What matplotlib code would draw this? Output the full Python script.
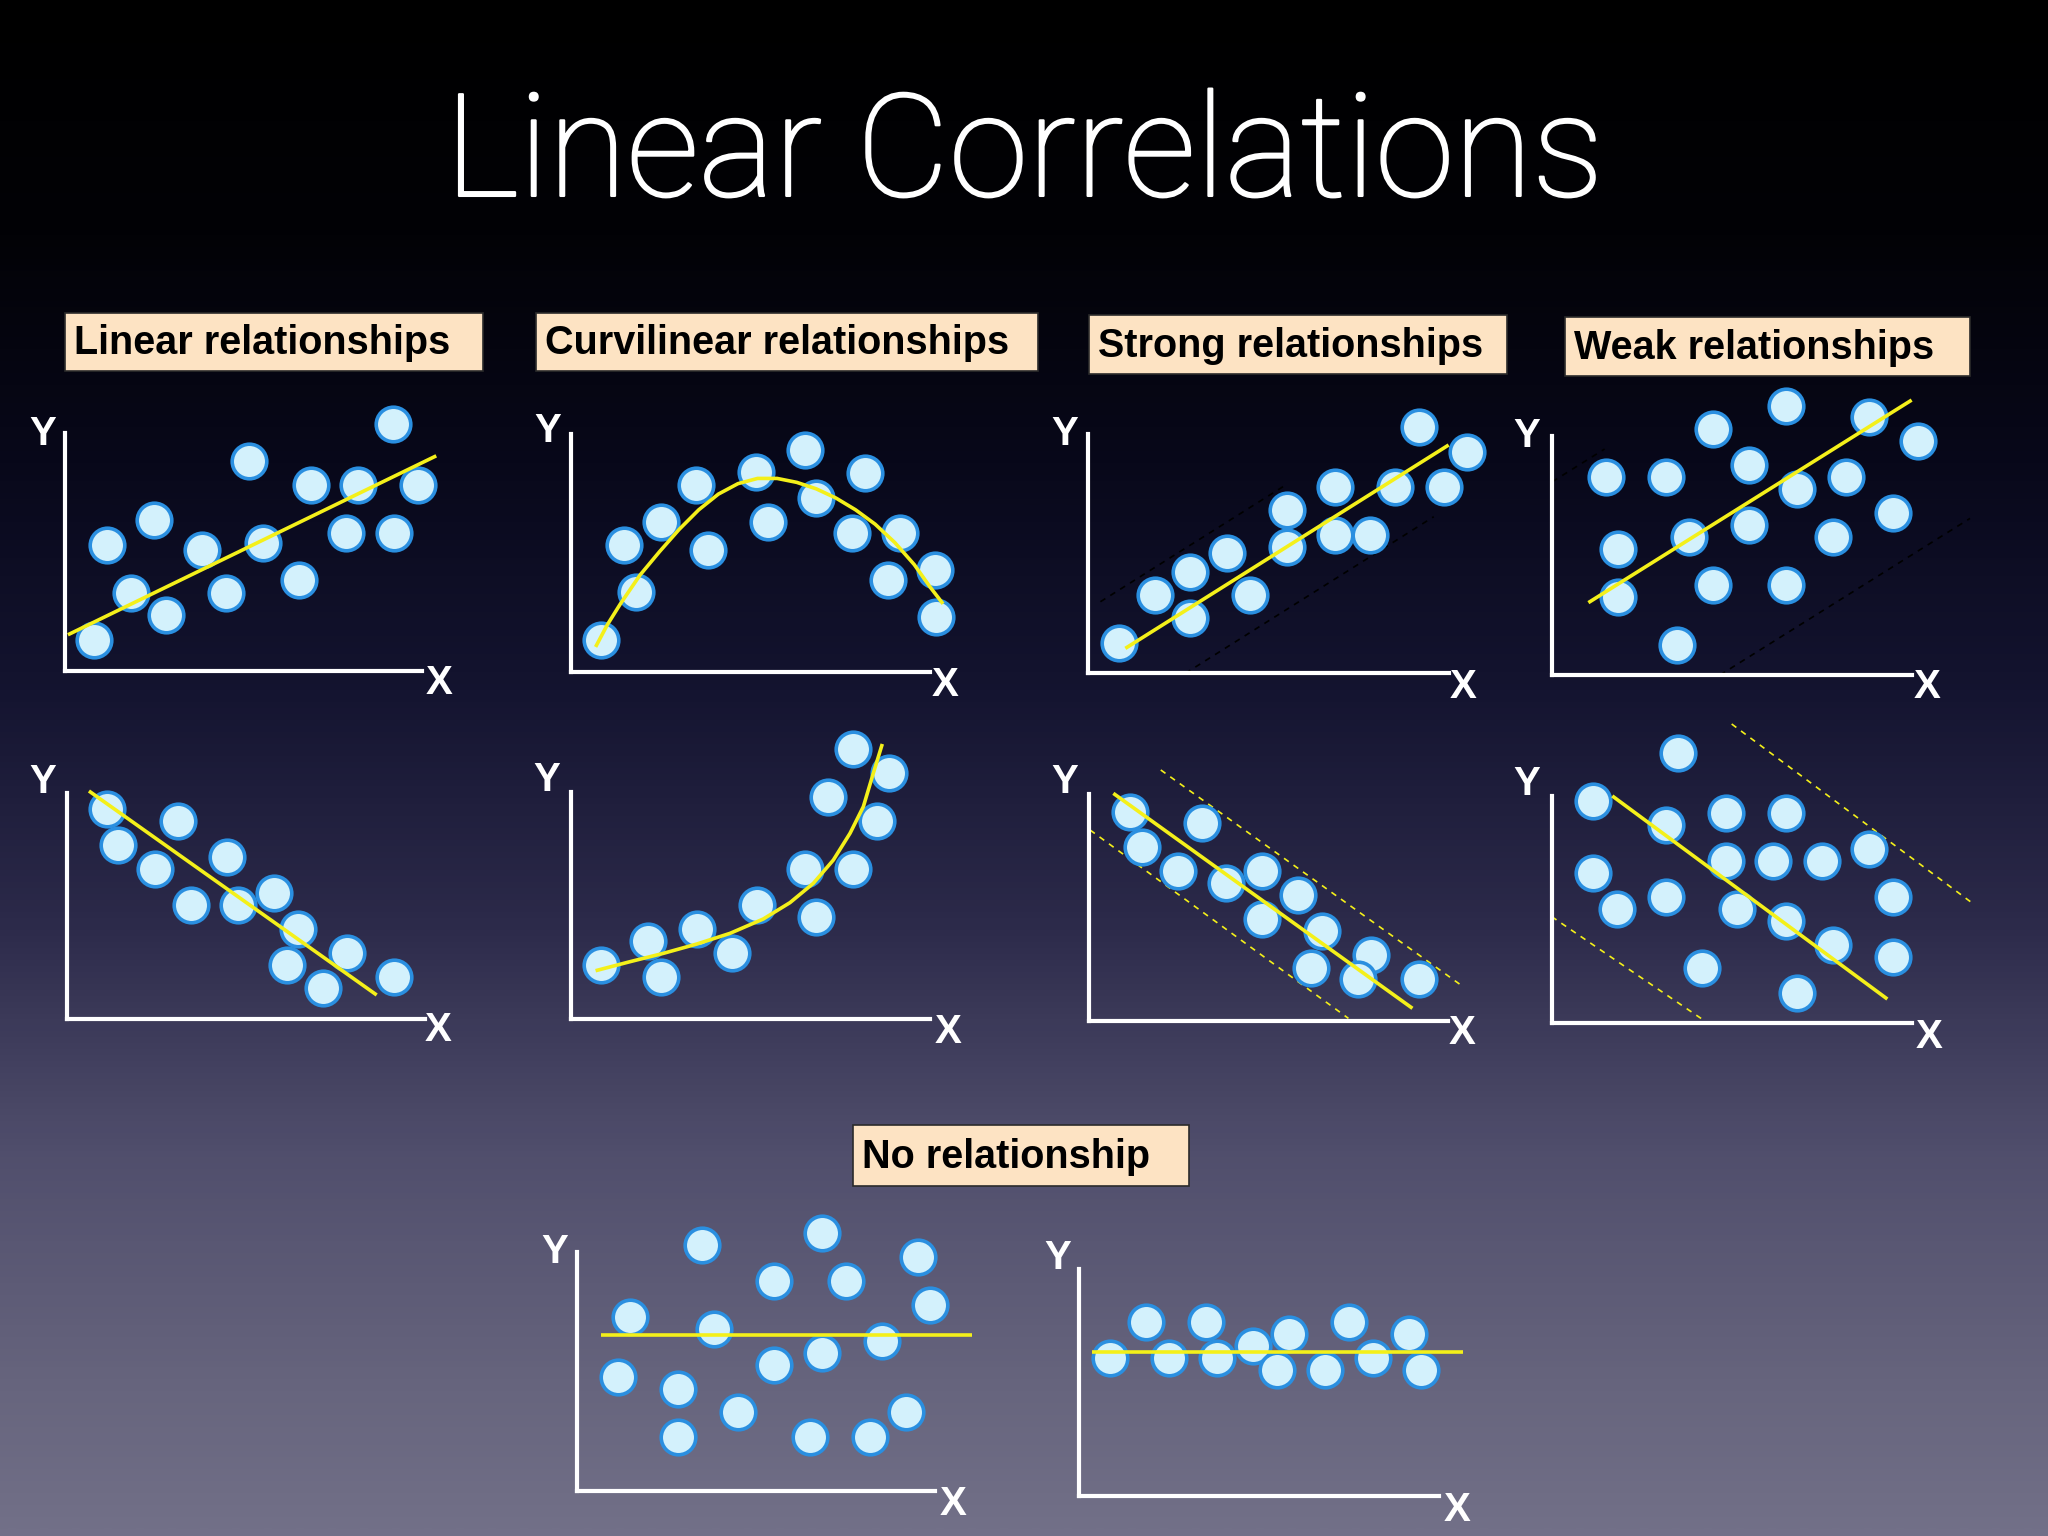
import numpy as np
import matplotlib
matplotlib.use("Agg")
import matplotlib.pyplot as plt
import matplotlib.patheffects as pe
from matplotlib.colors import LinearSegmentedColormap
from matplotlib.patches import Rectangle

# ---------------- data ----------------
# Linear relationships - positive
lin_pos_x = [22, 50, 77, 32, 68, 105, 123, 141, 151, 179, 188, 215, 224, 251, 252, 270]
lin_pos_y = [24, 60, 43, 97, 116, 93, 60, 161, 98, 70, 143, 106, 143, 189, 106, 143]
lin_pos_fit_x = [2, 284]
lin_pos_fit_y = [28, 165]

# Linear relationships - negative
lin_neg_x = [30.6, 85.5, 39.6, 67.6, 122.5, 94.9, 131.4, 158.7, 177.4, 214.4, 168.4, 196.0, 250.9]
lin_neg_y = [160.8, 151.6, 133.0, 114.8, 124.3, 87.3, 87.3, 96.7, 68.9, 50.8, 41.3, 23.5, 32.4]
lin_neg_fit_x = [17.1, 237.4]
lin_neg_fit_y = [174.6, 18.4]

# Curvilinear - arch
curv_arch_x = [23, 50, 41, 69, 96, 105, 142, 151, 179, 188, 215, 225, 243, 252, 279, 280]
curv_arch_y = [24, 61, 97, 115, 143, 93, 153, 115, 170, 133, 106, 152, 70, 106, 78, 42]
curv_arch_fit_x = [19, 28, 38, 53, 68, 83, 98, 113, 128, 143, 158, 173, 188, 203, 218, 233, 248, 263, 275, 285]
curv_arch_fit_y = [19, 36, 52, 74, 92, 109, 124, 136, 144, 148, 148, 145, 140, 133, 124, 113, 99, 82, 65, 52]

# Curvilinear - exponential
curv_exp_x = [23.2, 59.5, 68.9, 96.5, 123.8, 142.4, 179.4, 187.8, 215.9, 197.3, 234.3, 215.9, 243.7]
curv_exp_y = [41.3, 60.0, 31.9, 68.9, 50.3, 87.3, 114.8, 77.8, 114.8, 170.2, 151.9, 206.5, 188.1]
curv_exp_fit_x = [19.1, 45.4, 71.0, 96.5, 122.0, 147.5, 167.9, 185.8, 201.1, 213.9, 224.1, 231.7, 238.6]
curv_exp_fit_y = [37.0, 43.9, 50.3, 57.4, 65.6, 76.6, 89.1, 103.9, 121.7, 142.2, 162.6, 188.1, 210.6]

# Strong - positive
strong_pos_x = [23.2, 51.3, 78.1, 78.1, 106.2, 124.0, 152.1, 152.1, 189.1, 189.1, 215.9, 235.1, 252.9, 272.1, 289.9]
strong_pos_y = [22.4, 59.4, 77.3, 41.6, 91.4, 59.4, 124.5, 96.4, 142.4, 105.4, 105.4, 142.4, 188.3, 142.4, 169.2]
strong_pos_fit_x = [28.3, 275.8]
strong_pos_fit_y = [18.6, 174.3]
strong_pos_band = [([74.3, 264.4], [-0.5, 119.4]), ([9.2, 150.0], [54.3, 143.0])]

# Strong - negative
strong_neg_x = [31.4, 86.8, 40.8, 68.4, 104.9, 132.7, 160.3, 132.7, 178.7, 215.7, 169.7, 206.2, 252.7]
strong_neg_y = [160.3, 151.9, 133.5, 114.8, 105.4, 114.8, 96.5, 78.1, 69.2, 50.5, 40.8, 31.9, 32.2]
strong_neg_fit_x = [18.6, 247.6]
strong_neg_fit_y = [174.3, 9.7]
strong_neg_band = [([54.9, 284.6], [192.2, 27.6]), ([0.8, 198.6], [146.2, 2.0])]

# Weak - positive
weak_pos_x = [40.9, 86.8, 123.3, 178.7, 150.8, 187.6, 224.6, 242.7, 279.7, 50.0, 104.9, 150.8,
              215.2, 261.1, 50.0, 123.3, 178.7, 95.7]
weak_pos_y = [151.3, 151.3, 188.1, 206.0, 160.8, 142.1, 151.3, 197.3, 179.2, 96.5, 105.9, 114.8,
              105.9, 123.8, 60.0, 68.9, 68.9, 23.0]
weak_pos_fit_x = [27.6, 275.1]
weak_pos_fit_y = [55.4, 210.5]
weak_pos_band = [([128.4, 319.8], [0.0, 119.9]), ([0.0, 40.0], [148.0, 173.0])]

# Weak - negative
weak_neg_x = [96.5, 31.9, 87.3, 133.2, 179.2, 133.2, 169.7, 206.7, 243.2, 31.9, 50.3, 87.3,
              142.2, 179.2, 215.7, 261.6, 261.6, 114.8, 188.1]
weak_neg_y = [206.7, 170.2, 151.9, 160.8, 160.8, 124.3, 124.3, 124.3, 133.5, 114.8, 87.5, 97.0,
              87.5, 78.4, 60.0, 97.0, 51.0, 42.1, 23.5]
weak_neg_fit_x = [46.4, 257.0]
weak_neg_fit_y = [174.1, 18.6]
weak_neg_band = [([137.8, 321.6], [229.2, 92.4]), ([0.0, 116.1], [81.7, 2.6])]

# No relationship - scattered
none_wide_x = [96.2, 187.6, 261.6, 151.3, 206.2, 270.5, 40.8, 105.2, 233.5, 187.6, 151.3, 31.9,
               77.8, 123.8, 251.9, 77.8, 178.7, 224.6]
none_wide_y = [188.1, 197.5, 179.2, 160.5, 160.5, 142.2, 133.2, 123.8, 114.6, 105.7, 96.2, 87.3,
               77.8, 60.0, 60.0, 41.3, 41.3, 41.3]
none_wide_fit_x = [18.4, 302.9]
none_wide_fit_y = [118.9, 118.9]

# No relationship - flat
none_flat_x = [23.5, 50.8, 68.9, 96.7, 105.7, 133.2, 160.8, 151.6, 188.4, 206.7, 225.1, 252.7, 261.9]
none_flat_y = [105.4, 133.5, 105.4, 133.5, 105.4, 114.8, 124.0, 96.5, 96.5, 133.5, 105.4, 124.0, 96.5]
none_flat_fit_x = [9.4, 294.0]
none_flat_fit_y = [110.0, 110.0]

title_text = "Linear Correlations"
box_labels = ["Linear relationships", "Curvilinear relationships", "Strong relationships",
              "Weak relationships", "No relationship"]

# ---------------- layout (reference grid 1568 x 1176) ----------------
W, H = 1568.0, 1176.0
FILL = "#d3f1fc"
EDGE = "#2a8fe0"
YELLOW = "#f4f01a"
BOX_FILL = "#fde3c3"

fig = plt.figure(figsize=(20.48, 15.36), dpi=100)

# background gradient
bg = fig.add_axes([0, 0, 1, 1], zorder=-10)
stops = [(0.0, (0, 0, 0)), (0.15, (2, 2, 6)), (0.30, (8, 8, 26)), (0.45, (20, 20, 48)),
         (0.60, (44, 42, 74)), (0.75, (80, 78, 108)), (0.90, (102, 100, 125)), (1.0, (114, 112, 136))]
cmap = LinearSegmentedColormap.from_list("bg", [(p, tuple(c / 255 for c in rgb)) for p, rgb in stops])
grad = np.linspace(0, 1, 512).reshape(-1, 1)
bg.imshow(grad, aspect="auto", cmap=cmap, extent=[0, 1, 1, 0], interpolation="bilinear")
bg.set_xlim(0, 1)
bg.set_ylim(1, 0)
bg.axis("off")

# title
fig.text(0.5, 1 - 150 / H, title_text, ha="center", va="baseline", color="white",
         fontsize=103, family="Roboto", fontweight="light",
         path_effects=[pe.withStroke(linewidth=1.6, foreground="white")])

# label boxes (x0, y0, x1, y1) in grid units
box_geom = [(50, 240, 370, 284), (410, 240, 795, 284), (834, 241, 1154, 286),
            (1198, 243, 1508, 288), (653, 861, 910, 908)]
for (x0, y0, x1, y1), lab in zip(box_geom, box_labels):
    fig.patches.append(Rectangle((x0 / W, 1 - y1 / H), (x1 - x0) / W, (y1 - y0) / H,
                                 transform=fig.transFigure, facecolor=BOX_FILL,
                                 edgecolor="#2b2b2b", linewidth=1.2, zorder=2))
    fig.text((x0 + 7) / W, 1 - (y0 + 0.71 * (y1 - y0)) / H, lab, ha="left", va="baseline",
             color="black", fontsize=28.5, family="Liberation Sans", fontweight="bold", zorder=3)


def panel(origin, Lx, Ly, xs, ys, fx, fy, ylab, xlab, band=None, band_color=None):
    ox, oy = origin
    xmin, xmax, ymin, ymax = -45.0, Lx + 70.0, -35.0, Ly + 60.0
    rect = [(ox + xmin) / W, (H - (oy - ymin)) / H, (xmax - xmin) / W, (ymax - ymin) / H]
    ax = fig.add_axes(rect)
    ax.set_xlim(xmin, xmax)
    ax.set_ylim(ymin, ymax)
    ax.patch.set_alpha(0)
    for s in ("top", "right"):
        ax.spines[s].set_visible(False)
    for s, L in (("left", Ly), ("bottom", Lx)):
        sp = ax.spines[s]
        sp.set_position(("data", 0))
        sp.set_bounds(0, L)
        sp.set_color("white")
        sp.set_linewidth(3.0)
        sp.set_capstyle("projecting")
    ax.set_xticks([])
    ax.set_yticks([])
    if band:
        for bx, by in band:
            ax.plot(bx, by, color=band_color, lw=1.2, ls=(0, (3.5, 3.5)), zorder=2, clip_on=False)
    ax.scatter(xs, ys, s=620, c=FILL, edgecolors=EDGE, linewidths=2.6, zorder=3, clip_on=False)
    ax.plot(fx, fy, color=YELLOW, lw=2.6, zorder=4, clip_on=False, solid_capstyle="butt")
    ax.text(ylab[0], ylab[1], "Y", ha="center", va="center", color="white", fontsize=29,
            family="Liberation Sans", fontweight="bold")
    ax.text(xlab[0], xlab[1], "X", ha="center", va="center", color="white", fontsize=29,
            family="Liberation Sans", fontweight="bold")
    return ax


panel((50.0, 514.0), 273.0, 182.4, lin_pos_x, lin_pos_y, lin_pos_fit_x, lin_pos_fit_y,
      (-17, 182), (286, -9))
panel((437.0, 514.3), 275.0, 182.0, curv_arch_x, curv_arch_y, curv_arch_fit_x, curv_arch_fit_y,
      (-18, 184), (286.5, -10.2))
panel((833.3, 515.0), 276.0, 183.0, strong_pos_x, strong_pos_y, strong_pos_fit_x, strong_pos_fit_y,
      (-18, 183), (287, -11), band=strong_pos_band, band_color="#000000")
panel((1188.5, 516.8), 275.1, 183.0, weak_pos_x, weak_pos_y, weak_pos_fit_x, weak_pos_fit_y,
      (-19.5, 182.8), (286.6, -8.9), band=weak_pos_band, band_color="#000000")

panel((51.0, 780.2), 274.4, 172.8, lin_neg_x, lin_neg_y, lin_neg_fit_x, lin_neg_fit_y,
      (-17.9, 181.7), (284.6, -8.4))
panel((436.9, 780.2), 275.1, 174.1, curv_exp_x, curv_exp_y, curv_exp_fit_x, curv_exp_fit_y,
      (-18.4, 183.0), (289.2, -9.7))
panel((833.8, 781.7), 275.1, 173.8, strong_neg_x, strong_neg_y, strong_neg_fit_x, strong_neg_fit_y,
      (-18.4, 183.2), (285.3, -9.4), band=strong_neg_band, band_color=YELLOW)
panel((1188.0, 783.5), 275.6, 174.1, weak_neg_x, weak_neg_y, weak_neg_fit_x, weak_neg_fit_y,
      (-19.1, 183.3), (288.9, -10.2), band=weak_neg_band, band_color=YELLOW)

panel((441.5, 1141.3), 274.4, 183.0, none_wide_x, none_wide_y, none_wide_fit_x, none_wide_fit_y,
      (-16.6, 183.0), (288.1, -10.2))
panel((826.4, 1145.4), 275.6, 173.5, none_flat_x, none_flat_y, none_flat_fit_x, none_flat_fit_y,
      (-16.8, 181.9), (289.4, -10.7))

fig.savefig("out.png", dpi=100)
